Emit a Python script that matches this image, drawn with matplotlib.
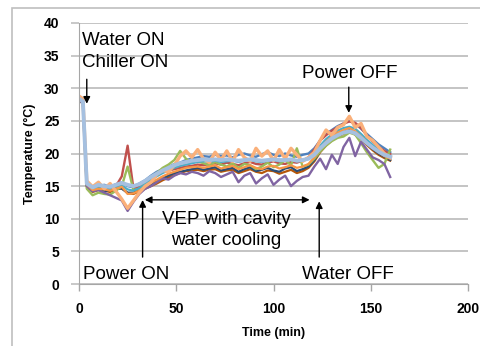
import numpy as np
import matplotlib
matplotlib.use('Agg')
import matplotlib.pyplot as plt
from matplotlib.patches import Rectangle

plt.rcParams['font.family'] = ['Liberation Sans', 'DejaVu Sans']

# time in minutes
time = [0, 2] + list(range(4, 161, 3))

s_blue = [28.6, 28.2, 15.6, 14.8, 15.0, 15.2, 14.9, 15.3, 15.6, 15.0, 14.8,
          15.4, 15.9, 16.6, 17.2, 17.6, 17.9, 18.4, 18.6, 19.0, 19.2, 19.4,
          19.6, 19.5, 19.8, 19.6, 19.7, 19.4, 19.8, 20.0, 19.7, 19.5, 19.9,
          20.2, 19.8, 19.6, 20.0, 19.7, 19.5, 19.8, 20.0, 20.8, 22.0, 23.0,
          23.6, 24.2, 24.6, 25.0, 24.6, 23.8, 23.0, 22.2, 21.4, 20.8, 20.2]
s_red = [28.4, 27.9, 15.2, 14.6, 14.9, 14.7, 14.8, 15.0, 16.5, 21.2, 14.6,
         14.9, 15.5, 16.0, 16.8, 17.2, 17.4, 17.6, 17.8, 18.0, 18.1, 18.3,
         18.2, 18.4, 18.5, 18.3, 18.6, 18.4, 18.2, 18.5, 18.7, 18.4, 18.3,
         18.6, 18.8, 18.5, 18.4, 18.7, 18.6, 18.9, 19.4, 20.6, 22.0, 22.8,
         23.5, 24.0, 24.6, 24.9, 24.7, 23.9, 22.8, 21.8, 21.0, 20.4, 19.9]
s_green = [28.5, 27.5, 14.6, 13.6, 14.0, 13.8, 13.7, 14.3, 15.0, 18.0, 14.4,
           14.6, 15.4, 16.4, 17.0, 17.8, 18.3, 19.0, 20.4, 19.2, 18.6, 18.8,
           18.5, 18.2, 18.7, 18.3, 18.0, 18.5, 17.8, 18.4, 18.2, 17.6, 18.0,
           18.6, 17.9, 18.3, 19.0, 18.2, 20.8, 18.0, 18.3, 19.2, 20.3, 21.2,
           21.9, 22.4, 22.6, 23.2, 22.9, 21.6, 20.2, 19.0, 17.8, 18.4, 20.6]
s_purple = [28.3, 27.6, 15.0, 14.2, 14.4, 14.0, 13.6, 13.2, 12.8, 11.2, 12.6,
            13.8, 14.6, 15.0, 15.6, 16.2, 16.0, 16.6, 17.0, 16.8, 17.2, 17.0,
            16.6, 17.3, 17.0, 16.4, 16.8, 17.2, 15.6, 16.6, 17.0, 15.4, 16.2,
            16.8, 15.2, 16.0, 16.6, 15.0, 15.8, 16.4, 16.6, 18.0, 19.2, 17.6,
            19.8, 18.4, 21.0, 22.4, 19.6, 21.8, 20.6, 19.4, 19.0, 18.4, 16.4]
s_aqua = [28.5, 28.0, 15.4, 14.6, 14.8, 14.6, 14.5, 14.9, 15.1, 14.5, 14.3,
          14.7, 15.3, 16.0, 16.5, 17.0, 17.4, 17.8, 18.1, 18.3, 18.5, 18.7,
          18.8, 18.7, 18.9, 18.7, 18.8, 18.9, 18.7, 18.9, 19.0, 18.8, 18.7,
          18.9, 19.0, 18.8, 18.9, 19.1, 18.8, 18.9, 19.2, 20.0, 21.2, 22.2,
          22.9, 23.5, 23.9, 24.1, 23.8, 23.0, 22.1, 21.3, 20.6, 20.0, 19.6]
s_orange = [28.6, 28.1, 15.3, 14.4, 14.6, 14.5, 14.3, 14.6, 14.9, 13.8, 13.9,
            14.3, 14.9, 15.5, 16.0, 16.5, 16.9, 17.2, 17.5, 17.8, 17.9, 18.0,
            17.8, 18.0, 18.2, 17.7, 17.9, 18.1, 17.6, 17.9, 18.2, 17.8, 17.6,
            18.0, 18.1, 17.7, 17.9, 18.2, 17.8, 18.0, 18.4, 19.4, 20.8, 21.8,
            22.6, 23.2, 23.6, 23.9, 23.4, 22.6, 21.7, 20.9, 20.2, 19.6, 19.2]
s_navy = [28.4, 27.8, 15.0, 14.3, 14.5, 14.2, 14.4, 14.7, 14.6, 14.0, 14.0,
          14.4, 14.8, 15.2, 15.8, 16.2, 16.6, 17.0, 17.2, 17.4, 17.6, 17.8,
          17.5, 17.7, 17.9, 17.4, 17.6, 17.8, 17.2, 17.6, 17.9, 17.3, 17.5,
          17.8, 17.4, 17.2, 17.7, 17.9, 17.3, 17.6, 18.0, 19.0, 20.4, 21.4,
          22.2, 22.8, 23.3, 23.6, 23.2, 22.4, 21.5, 20.7, 20.0, 19.5, 19.0]
s_brown = [28.2, 27.7, 14.9, 14.1, 14.4, 14.3, 14.1, 14.5, 14.7, 13.9, 13.8,
           14.2, 14.6, 15.0, 15.4, 15.9, 16.3, 16.7, 17.0, 17.3, 17.4, 17.5,
           17.3, 17.5, 17.6, 17.2, 17.4, 17.5, 17.0, 17.3, 17.6, 17.2, 17.0,
           17.4, 17.3, 16.9, 17.2, 17.5, 17.0, 17.3, 17.8, 18.8, 20.2, 21.2,
           22.0, 22.6, 23.0, 23.4, 22.9, 22.2, 21.3, 20.5, 19.8, 19.3, 18.9]
s_peach = [28.8, 28.4, 15.8, 14.9, 15.6, 14.6, 15.4, 14.2, 13.0, 11.6, 12.8,
           14.0, 15.0, 15.6, 16.8, 17.4, 17.2, 18.2, 19.6, 20.4, 19.4, 20.6,
           19.2, 18.6, 20.2, 19.0, 20.4, 18.8, 20.6, 19.4, 18.8, 20.8, 19.6,
           20.4, 18.9, 20.6, 19.2, 20.8, 19.8, 18.8, 19.4, 20.2, 22.0, 23.6,
           22.8, 24.0, 24.4, 25.7, 24.0, 24.6, 22.6, 22.0, 21.0, 20.0, 19.4]
s_sky = [28.4, 28.0, 15.4, 14.8, 15.2, 15.0, 14.9, 15.2, 15.5, 15.2, 15.0,
         15.3, 15.8, 16.4, 16.9, 17.4, 17.8, 18.2, 18.5, 18.7, 18.9, 19.0,
         19.1, 19.0, 19.1, 19.0, 19.1, 19.0, 18.9, 19.0, 19.1, 19.0, 18.9,
         19.0, 19.1, 19.0, 19.0, 19.1, 18.9, 19.0, 19.2, 19.8, 20.8, 21.6,
         22.3, 22.8, 23.2, 23.4, 23.1, 22.4, 21.6, 20.9, 20.3, 19.8, 19.5]

series = [s_brown, s_navy, s_blue, s_red, s_green, s_purple, s_aqua, s_orange, s_peach, s_sky]
colors = ['#B65708', '#2C4D75', '#4F81BD', '#C0504D', '#9BBB59', '#8064A2',
          '#4BACC6', '#F79646', '#FAB07A', '#A5C0E0']
widths = [1.6, 1.6, 1.7, 1.7, 1.7, 1.7, 1.6, 1.6, 2.4, 2.8]

fig = plt.figure(figsize=(4.8, 3.46), dpi=100)
ax = fig.add_axes([79/480, 1-284/346, 389/480, 261/346])

for s, c, w in zip(series, colors, widths):
    ax.plot(time, s, color=c, linewidth=w)

ax.set_xlim(0, 200)
ax.set_ylim(0, 40)
ax.set_xticks([0, 50, 100, 150, 200])
ax.set_yticks(range(0, 41, 5))
ax.grid(axis='y', color='#BFBFBF', linewidth=1.3)
ax.set_axisbelow(True)
for sp in ['top', 'right']:
    ax.spines[sp].set_visible(False)
ax.spines['left'].set_color('#A6A6A6')
ax.spines['bottom'].set_color('#A6A6A6')
ax.tick_params(axis='y', length=6, color='#BFBFBF', width=1.2, pad=8)
ax.tick_params(axis='x', length=5, color='#A6A6A6', width=1, pad=8)
for lab in ax.get_xticklabels() + ax.get_yticklabels():
    lab.set_fontweight('bold')
    lab.set_fontsize(10)

ax.set_xlabel('Time (min)', fontsize=9, fontweight='bold', labelpad=8)
ax.set_ylabel('Temperature (\u00b0C)', fontsize=9, fontweight='bold', labelpad=6)

arr = dict(arrowstyle='-|>', color='black', lw=1, mutation_scale=10)
fs = 13.5
ax.text(1.5, 38.6, 'Water ON\nChiller ON', fontsize=fs, ha='left', va='top', linespacing=1.35)
ax.annotate('', xy=(4, 27.2), xytext=(4, 31.8), arrowprops=arr)
ax.text(139, 31.6, 'Power OFF', fontsize=fs, ha='center', va='baseline')
ax.annotate('', xy=(138.7, 25.8), xytext=(138.7, 30.6), arrowprops=arr)
ax.text(24.4, 0.8, 'Power ON', fontsize=fs, ha='center', va='baseline')
ax.annotate('', xy=(32.7, 13.3), xytext=(32.7, 3.7), arrowprops=arr)
ax.text(138, 0.7, 'Water OFF', fontsize=fs, ha='center', va='baseline')
ax.annotate('', xy=(123.5, 13.1), xytext=(123.5, 3.7), arrowprops=arr)
ax.annotate('', xy=(120, 12.9), xytext=(32.4, 12.9),
            arrowprops=dict(arrowstyle='<|-|>', color='black', lw=1, mutation_scale=10))
ax.text(75.6, 8.3, 'VEP with cavity\nwater cooling', fontsize=fs, ha='center', va='center',
        multialignment='center', linespacing=1.3)

fig.patches.append(Rectangle((12/480, -0.1), 1.0, 1.1 - 8/346, fill=False,
                             edgecolor='#BFBFBF', linewidth=1.2, transform=fig.transFigure))

fig.savefig('out.png', dpi=100)
